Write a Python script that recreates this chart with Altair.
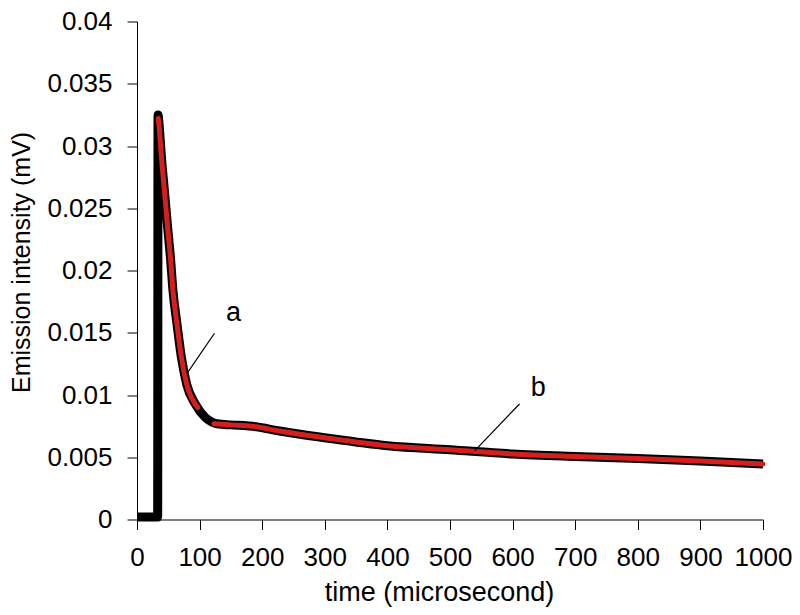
import altair as alt
import pandas as pd

# ---- data ----
# black trace (full signal incl. baseline and rise)
black_t = [0, 33, 33.6, 35, 39.2, 44, 48.7, 53.5, 57.6, 64, 71, 79.4, 93.2, 109, 130, 150, 190, 225,
           300, 400, 500, 600, 700, 800, 900, 1000]
black_v = [0.0002, 0.0002, 0.0325, 0.0319, 0.0290, 0.0263, 0.0236, 0.0210, 0.0183, 0.01565, 0.0130,
           0.01086, 0.00927, 0.0082, 0.00767, 0.0076, 0.00745, 0.00713,
           0.00657, 0.00593, 0.0056, 0.00526, 0.00506, 0.0049, 0.0047, 0.00446]

# red fitted curve (two visible pieces)
red1_t = [34, 35, 39.2, 44, 48.7, 53.5, 57.6, 64, 71, 79.4, 93.2, 97]
red1_v = [0.0322, 0.0317, 0.0290, 0.0263, 0.0236, 0.0210, 0.0183, 0.01565, 0.0130, 0.01086, 0.00927, 0.0090]
red2_t = [123, 130, 150, 190, 225, 300, 400, 500, 600, 700, 800, 900, 1000]
red2_v = [0.0077, 0.00767, 0.0076, 0.00745, 0.00713, 0.00657, 0.00593, 0.0056, 0.00526, 0.00506,
          0.0049, 0.0047, 0.00446]

# annotations
ann_label = ["a", "b"]
ann_tx = [154, 641]
ann_ty = [0.01657, 0.0106]
lead_x1 = [79.4, 539.7]
lead_y1 = [0.01169, 0.00553]
lead_x2 = [123.8, 611]
lead_y2 = [0.01496, 0.00928]

x_ticks = [0, 100, 200, 300, 400, 500, 600, 700, 800, 900, 1000]
y_ticks = [0, 0.005, 0.01, 0.015, 0.02, 0.025, 0.03, 0.035, 0.04]

FONT = "Liberation Sans"

black_df = pd.DataFrame({"t": black_t, "v": black_v})
red_df = pd.concat([
    pd.DataFrame({"t": red1_t, "v": red1_v, "seg": "1"}),
    pd.DataFrame({"t": red2_t, "v": red2_v, "seg": "2"}),
])
lead_df = pd.DataFrame({"x": lead_x1, "y": lead_y1, "x2": lead_x2, "y2": lead_y2})
text_df = pd.DataFrame({"label": ann_label, "x": ann_tx, "y": ann_ty})

xscale = alt.Scale(domain=[0, 1000], nice=False)
yscale = alt.Scale(domain=[0, 0.04], nice=False)

x_axis = alt.Axis(values=x_ticks, format="d", labelOverlap=False, title="time (microsecond)", grid=False,
                  labelFontSize=26, labelFont=FONT, labelColor="black", labelFlush=False,
                  tickSize=10, tickColor="black", domainColor="black", labelPadding=15,
                  titleFontSize=27, titleFont=FONT, titleFontWeight="normal", titleColor="black",
                  titleX=302, titleY=81, titleBaseline="alphabetic", titleAlign="center")
y_axis = alt.Axis(values=y_ticks, format="~g", labelOverlap=False, title="Emission intensity (mV)", grid=False,
                  labelFontSize=26, labelFont=FONT, labelColor="black", labelFlush=False,
                  tickSize=10, tickColor="black", domainColor="black", labelPadding=15,
                  titleFontSize=25, titleFont=FONT, titleFontWeight="normal", titleColor="black",
                  titleX=-108, titleY=371, titleBaseline="alphabetic", titleAlign="left", titleAngle=270)

black = alt.Chart(black_df).mark_line(color="black", strokeWidth=9, strokeJoin="round",
                                      interpolate="monotone").encode(
    x=alt.X("t:Q", scale=xscale, axis=x_axis),
    y=alt.Y("v:Q", scale=yscale, axis=y_axis),
)
red = alt.Chart(red_df).mark_line(color="#d41f1f", strokeWidth=5, strokeJoin="round", strokeCap="round",
                                  interpolate="monotone").encode(
    x=alt.X("t:Q", scale=xscale),
    y=alt.Y("v:Q", scale=yscale),
    detail="seg:N",
)
leads = alt.Chart(lead_df).mark_rule(color="black", strokeWidth=1.2).encode(
    x=alt.X("x:Q", scale=xscale), y=alt.Y("y:Q", scale=yscale), x2="x2:Q", y2="y2:Q"
)
texts = alt.Chart(text_df).mark_text(font=FONT, fontSize=27, color="black",
                                     align="center", baseline="middle").encode(
    x=alt.X("x:Q", scale=xscale), y=alt.Y("y:Q", scale=yscale), text="label:N"
)

chart = alt.layer(black, red, leads, texts).properties(
    width=626, height=498,
    autosize=alt.AutoSizeParams(type="none"),
    padding={"left": 129, "top": 13.5, "right": 29, "bottom": 87},
    background="white",
).configure_view(stroke=None)

chart.save("out.html", embed_options={"renderer": "svg", "actions": False})
